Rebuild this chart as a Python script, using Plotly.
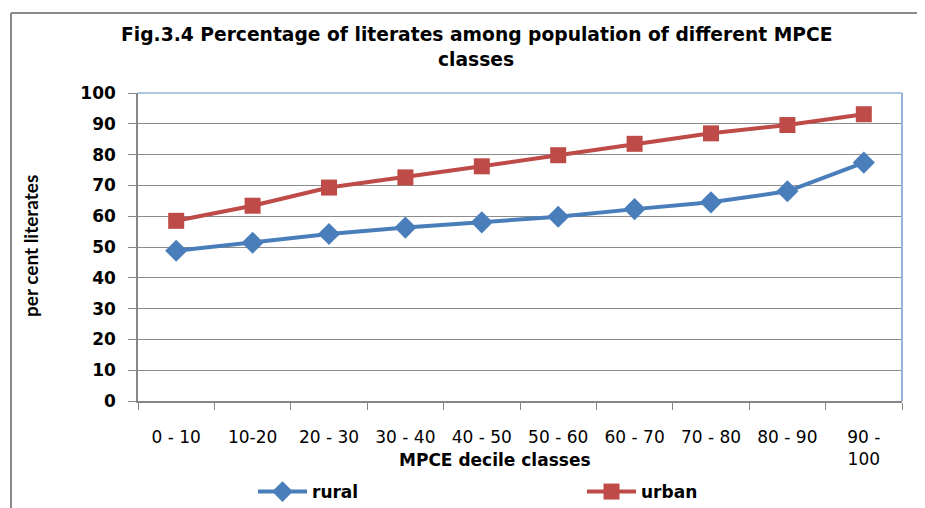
import plotly.graph_objects as go

categories = ["0 - 10", "10-20", "20 - 30", "30 - 40", "40 - 50", "50 - 60",
              "60 - 70", "70 - 80", "80 - 90", "90 -<br>100"]
rural = [48.8, 51.4, 54.2, 56.3, 58.0, 59.8, 62.3, 64.5, 68.1, 77.4]
urban = [58.5, 63.4, 69.3, 72.6, 76.2, 79.8, 83.5, 86.9, 89.6, 93.1]
y_ticks = [0, 10, 20, 30, 40, 50, 60, 70, 80, 90, 100]

# the page places the figure 8px from the top-left corner
OFF = 8
W, H = 925 - OFF, 508 - OFF
L, R, T, B = 138, 902, 93, 401   # plot area in window pixels


def px(x):
    return (x - L) / (R - L)


def py(y):
    return (B - y) / (B - T)


legend_font = dict(family="DejaVu Sans", size=17, color="black", weight="bold")

fig = go.Figure()
fig.add_trace(go.Scatter(
    x=categories, y=rural, name="rural", mode="lines+markers",
    line=dict(color="#4A7EBB", width=4),
    marker=dict(symbol="diamond", size=17, color="#4A7EBB"),
    legend="legend",
))
fig.add_trace(go.Scatter(
    x=categories, y=urban, name="urban", mode="lines+markers",
    line=dict(color="#BE4B48", width=4),
    marker=dict(symbol="square", size=16, color="#BE4B48"),
    legend="legend2",
))

fig.update_layout(
    width=W, height=H,
    margin=dict(l=L - OFF, r=925 - R, t=T - OFF, b=508 - B, autoexpand=False),
    paper_bgcolor="white", plot_bgcolor="white",
    showlegend=True,
    legend=dict(orientation="h", x=px(253), y=py(492), xanchor="left", yanchor="middle",
                font=legend_font, itemwidth=49, bgcolor="rgba(0,0,0,0)"),
    legend2=dict(orientation="h", x=px(582), y=py(492), xanchor="left", yanchor="middle",
                 font=legend_font, itemwidth=49, bgcolor="rgba(0,0,0,0)"),
    xaxis=dict(
        type="category", range=[-0.5, len(categories) - 0.5],
        showgrid=False, showline=True, linecolor="#868686", linewidth=1.5,
        ticks="outside", ticklen=7, tickcolor="#868686", tickson="boundaries",
        tickfont=dict(family="DejaVu Sans", size=17, color="black"),
        ticklabelstandoff=20, zeroline=False,
    ),
    yaxis=dict(
        range=[0, 100], tickvals=y_ticks, showgrid=True, gridcolor="#8C8C8C", gridwidth=1,
        showline=True, linecolor="#868686", linewidth=1.5,
        ticks="outside", ticklen=8, tickcolor="#868686",
        tickfont=dict(family="DejaVu Sans", size=17, color="black", weight="bold"),
        ticklabelstandoff=9, zeroline=False,
    ),
    annotations=[
        dict(text="Fig.3.4 Percentage of literates among population of different MPCE",
             x=px(476), y=py(34), xref="paper", yref="paper", showarrow=False,
             xanchor="center", yanchor="middle",
             font=dict(family="DejaVu Sans", size=18.7, color="black", weight="bold")),
        dict(text="classes",
             x=px(476), y=py(60), xref="paper", yref="paper", showarrow=False,
             xanchor="center", yanchor="middle",
             font=dict(family="DejaVu Sans", size=18.7, color="black", weight="bold")),
        dict(text="per cent literates", x=px(30), y=py(246), xref="paper", yref="paper",
             showarrow=False, textangle=-90, xanchor="center", yanchor="middle",
             font=dict(family="Lato", size=19, color="black", weight="bold")),
        dict(text="MPCE decile classes", x=px(495), y=py(460), xref="paper", yref="paper",
             showarrow=False, xanchor="center", yanchor="middle",
             font=dict(family="DejaVu Sans", size=17, color="black", weight="bold")),
    ],
    shapes=[
        dict(type="line", xref="paper", yref="paper", x0=0, x1=1, y0=1, y1=1,
             line=dict(color="#95B3D7", width=1.5), layer="above"),
        dict(type="line", xref="paper", yref="paper", x0=1, x1=1, y0=0, y1=1,
             line=dict(color="#95B3D7", width=2), layer="above"),
        dict(type="line", xref="paper", yref="paper", x0=px(11), x1=px(11), y0=py(13), y1=py(520),
             line=dict(color="#8A8A8A", width=2)),
        dict(type="line", xref="paper", yref="paper", x0=px(11), x1=px(935), y0=py(13), y1=py(13),
             line=dict(color="#8A8A8A", width=2)),
    ],
)

fig.write_html("out.html")
